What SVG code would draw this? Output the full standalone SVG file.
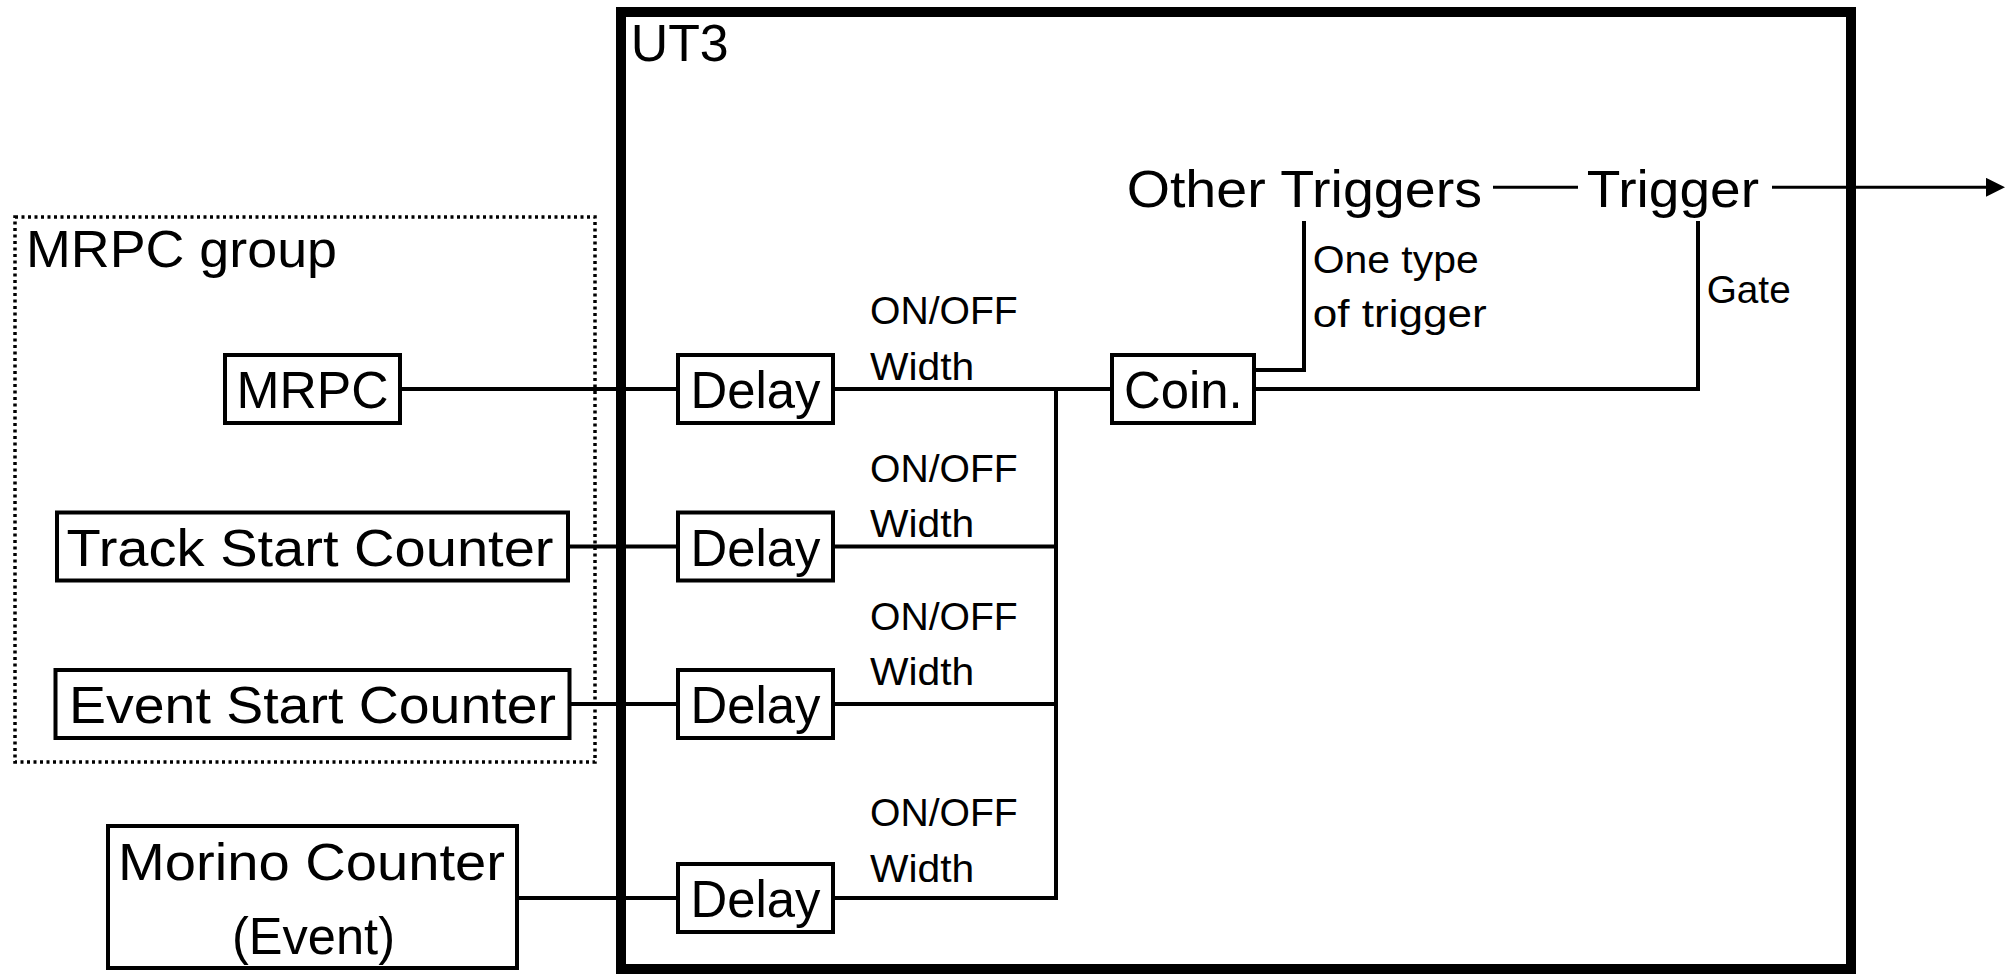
<svg xmlns="http://www.w3.org/2000/svg" width="2010" height="974" viewBox="0 0 2010 974">
<defs>
<style>
.box{fill:#fff;stroke:#000;stroke-width:4}
.frame{fill:none;stroke:#000;stroke-width:10}
.dotted{fill:none;stroke:#000;stroke-width:3.5;stroke-dasharray:3 3.5}
.big{font-family:"Liberation Sans",Arial,sans-serif;font-size:52px;fill:#000}
.small{font-family:"Liberation Sans",Arial,sans-serif;font-size:38.5px;fill:#000}
.mid{text-anchor:middle}
.wire{fill:none;stroke:#000;stroke-width:4}
.thin{fill:none;stroke:#000;stroke-width:3}
</style>
<marker id="arrow" markerWidth="19" markerHeight="19" refX="4" refY="9.5" orient="auto" markerUnits="userSpaceOnUse">
<path d="M0,0 L19,9.5 L0,19 z" fill="#000"/>
</marker>
</defs>
<rect width="2010" height="974" fill="#fff"/>

<g id="ut3">
<rect class="frame" x="621" y="12" width="1230" height="957"/>
<text class="big" x="630.7" y="61" textLength="98" lengthAdjust="spacingAndGlyphs">UT3</text>
</g>

<g id="mrpc-group">
<rect class="dotted" x="15" y="217" width="580" height="545"/>
<text class="big" x="26" y="266.7" textLength="311" lengthAdjust="spacingAndGlyphs">MRPC group</text>
</g>

<g id="connectors">
<path class="wire" d="M400,389 H678"/>
<path class="wire" d="M568,546.5 H678"/>
<path class="wire" d="M569,704 H678"/>
<path class="wire" d="M517,898 H678"/>
<path class="wire" d="M833,389 H1112"/>
<path class="wire" d="M833,546.5 H1056"/>
<path class="wire" d="M833,704 H1056"/>
<path class="wire" d="M833,898 H1056 V389"/>
<path class="wire" d="M1254,389 H1698 V221"/>
<path class="wire" d="M1254,370 H1304 V221"/>
<path class="thin" d="M1493,187.3 H1578"/>
<path class="thin" d="M1772,187.3 H1990" marker-end="url(#arrow)"/>
<g id="connector-labels">
<text class="small" x="870" y="324" textLength="147.7" lengthAdjust="spacingAndGlyphs">ON/OFF</text>
<text class="small" x="870" y="380" textLength="104.3" lengthAdjust="spacingAndGlyphs">Width</text>
<text class="small" x="870" y="481.7" textLength="147.7" lengthAdjust="spacingAndGlyphs">ON/OFF</text>
<text class="small" x="870" y="536.7" textLength="104.3" lengthAdjust="spacingAndGlyphs">Width</text>
<text class="small" x="870" y="630" textLength="147.7" lengthAdjust="spacingAndGlyphs">ON/OFF</text>
<text class="small" x="870" y="685" textLength="104.3" lengthAdjust="spacingAndGlyphs">Width</text>
<text class="small" x="870" y="826" textLength="147.7" lengthAdjust="spacingAndGlyphs">ON/OFF</text>
<text class="small" x="870" y="882" textLength="104.3" lengthAdjust="spacingAndGlyphs">Width</text>
<text class="small" x="1312.7" y="272.7" textLength="166" lengthAdjust="spacingAndGlyphs">One type</text>
<text class="small" x="1312.7" y="326.7" textLength="174" lengthAdjust="spacingAndGlyphs">of trigger</text>
<text class="small" x="1706.7" y="303.3" textLength="84" lengthAdjust="spacingAndGlyphs">Gate</text>
</g>
</g>

<g id="mrpc">
<rect class="box" x="225" y="355" width="175" height="68"/>
<text class="big mid" x="312.5" y="408.3" textLength="152" lengthAdjust="spacingAndGlyphs">MRPC</text>
</g>
<g id="track-start-counter">
<rect class="box" x="57" y="512.5" width="511" height="68"/>
<text class="big mid" x="310" y="565.8" textLength="487" lengthAdjust="spacingAndGlyphs">Track Start Counter</text>
</g>
<g id="event-start-counter">
<rect class="box" x="55.5" y="670" width="514" height="68"/>
<text class="big mid" x="312.5" y="723.3" textLength="487" lengthAdjust="spacingAndGlyphs">Event Start Counter</text>
</g>
<g id="morino-counter">
<rect class="box" x="108" y="826" width="409" height="142"/>
<text class="big mid" x="311.5" y="880" textLength="387" lengthAdjust="spacingAndGlyphs">Morino Counter</text>
<text class="big mid" x="313.5" y="954" textLength="163" lengthAdjust="spacingAndGlyphs">(Event)</text>
</g>

<g id="delay1">
<rect class="box" x="678" y="355" width="155" height="68"/>
<text class="big mid" x="755.5" y="408.3" textLength="130" lengthAdjust="spacingAndGlyphs">Delay</text>
</g>
<g id="delay2">
<rect class="box" x="678" y="512.5" width="155" height="68"/>
<text class="big mid" x="755.5" y="565.8" textLength="130" lengthAdjust="spacingAndGlyphs">Delay</text>
</g>
<g id="delay3">
<rect class="box" x="678" y="670" width="155" height="68"/>
<text class="big mid" x="755.5" y="723.3" textLength="130" lengthAdjust="spacingAndGlyphs">Delay</text>
</g>
<g id="delay4">
<rect class="box" x="678" y="864" width="155" height="68"/>
<text class="big mid" x="755.5" y="917.3" textLength="130" lengthAdjust="spacingAndGlyphs">Delay</text>
</g>

<g id="coin">
<rect class="box" x="1112" y="355" width="142" height="68"/>
<text class="big mid" x="1183.3" y="408.3" textLength="118.7" lengthAdjust="spacingAndGlyphs">Coin.</text>
</g>

<g id="other-triggers">
<text class="big" x="1126.7" y="206.7" textLength="355.3" lengthAdjust="spacingAndGlyphs">Other Triggers</text>
</g>
<g id="trigger">
<text class="big" x="1586.7" y="206.7" textLength="172.3" lengthAdjust="spacingAndGlyphs">Trigger</text>
</g>
</svg>
